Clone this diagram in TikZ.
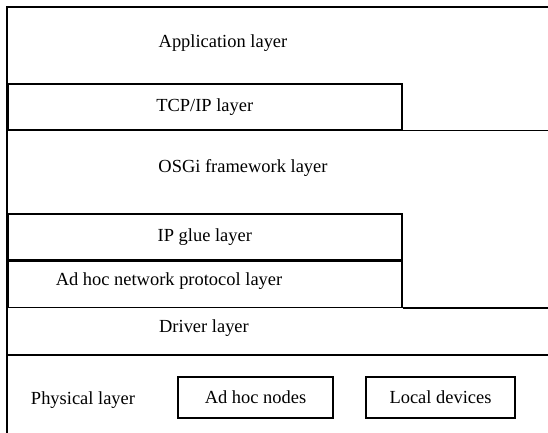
\documentclass[tikz,border=0pt]{standalone}
\usepackage{fontspec}
\setmainfont{Liberation Serif}
\usepackage{tikz}
\usetikzlibrary{positioning, calc}

\begin{document}
\begin{tikzpicture}[
    frame/.style={draw, line width=0.9pt},
    layerbox/.style={rectangle, draw, line width=0.9pt, anchor=north west, minimum width=7.88cm, minimum height=0.92cm, inner sep=0pt, font=\fontsize{10.5}{12}\selectfont},
    devbox/.style={rectangle, draw, line width=0.9pt, minimum height=0.82cm, inner sep=0pt, font=\fontsize{10.5}{12}\selectfont},
    label/.style={font=\fontsize{10.5}{12}\selectfont}
  ]
    \useasboundingbox (0,0) rectangle (10.96,-8.66);

    % Outer frame
    \coordinate (tl) at (0.14,-0.14);
    \coordinate (tr) at (10.96,-0.14);
    \coordinate (bl) at (0.14,-8.66);
    \draw[frame] (tr) -- (tl) -- (bl);

    % Application layer
    \node[label] (app) at (4.46,-0.86) {Application layer};

    % TCP/IP layer
    \node[layerbox] (tcp) at (0.14,-1.66) {TCP/IP layer};
    \draw[frame] (tcp.south east) -- (tcp.south east -| tr);

    % OSGi framework layer
    \node[label] (osgi) at (4.86,-3.36) {OSGi framework layer};

    % IP glue and ad hoc network protocol layers
    \node[layerbox] (glue) at (0.14,-4.26) {IP glue layer};
    \node[layerbox] (adhocnet) at (glue.south west) {};
    \node[label] (adhoclbl) at (3.38,-5.62) {Ad hoc network protocol layer};
    \draw[frame] (adhocnet.south east) -- (adhocnet.south east -| tr);

    % Driver layer
    \node[label] (driver) at (4.08,-6.56) {Driver layer};
    \coordinate (drvl) at (0.14,-7.10);
    \draw[frame] (drvl) -- (drvl -| tr);

    % Physical layer
    \node[label] (phys) at (1.66,-8.0) {Physical layer};
    \node[devbox, minimum width=3.1cm] (nodes) at (5.11,-7.95) {Ad hoc nodes};
    \node[devbox, minimum width=2.98cm] (local) at (8.81,-7.95) {Local devices};

  \end{tikzpicture}
\end{document}
